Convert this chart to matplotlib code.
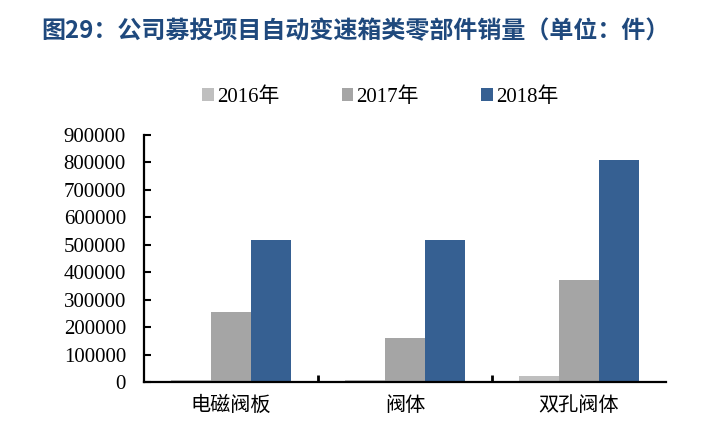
import numpy as np
import matplotlib
matplotlib.use("Agg")
import matplotlib.pyplot as plt

# data
categories = ["电磁阀板", "阀体", "双孔阀体"]
years = ["2016年", "2017年", "2018年"]
sales_2016 = [9000, 9000, 24000]
sales_2017 = [256000, 161000, 372000]
sales_2018 = [518000, 518000, 809000]
y_ticks = [0, 100000, 200000, 300000, 400000, 500000, 600000, 700000, 800000, 900000]

colors = ["#BFBFBF", "#A5A5A5", "#366092"]
serif_cjk = ["Liberation Serif", "Noto Sans CJK SC"]
plt.rcParams["font.family"] = serif_cjk

fig = plt.figure(figsize=(7.11, 4.46), dpi=100)
ax = fig.add_axes([0.2025, 0.1428, 0.734, 0.5545])

x = np.arange(len(categories))
width = 0.23
series = [sales_2016, sales_2017, sales_2018]
for i, vals in enumerate(series):
    ax.bar(x + (i - 1) * width, vals, width, color=colors[i], label=years[i])

ax.set_xlim(-0.5, len(categories) - 0.5)
ax.set_ylim(0, 900000)
ax.set_yticks(y_ticks)
ax.set_yticklabels([str(v) for v in y_ticks], fontsize=15)

ax.set_xticks(x)
ax.set_xticklabels(categories, family=["Noto Sans CJK SC"], fontsize=14.5)
ax.set_xticks([0.5, 1.5], minor=True)
ax.tick_params(axis="x", which="major", length=0, pad=9)
ax.tick_params(axis="x", which="minor", direction="in", length=5, width=2)
ax.tick_params(axis="y", direction="in", length=5, width=1.5, pad=13)

for s in ["top", "right"]:
    ax.spines[s].set_visible(False)
for s in ["left", "bottom"]:
    ax.spines[s].set_linewidth(1.6)
    ax.spines[s].set_color("black")

fig.legend(loc="center", bbox_to_anchor=(0.535, 0.782), ncol=3, frameon=False,
           handlelength=0.55, handleheight=0.55, handletextpad=0.15,
           columnspacing=3.0, prop={"family": serif_cjk, "size": 15})

fig.text(0.5, 0.93, "图29：公司募投项目自动变速箱类零部件销量（单位：件）",
         ha="center", va="center", fontsize=17.3, fontweight="bold",
         family=["Noto Sans CJK SC"], color="#1F497D")

fig.savefig("out.png", dpi=100)
